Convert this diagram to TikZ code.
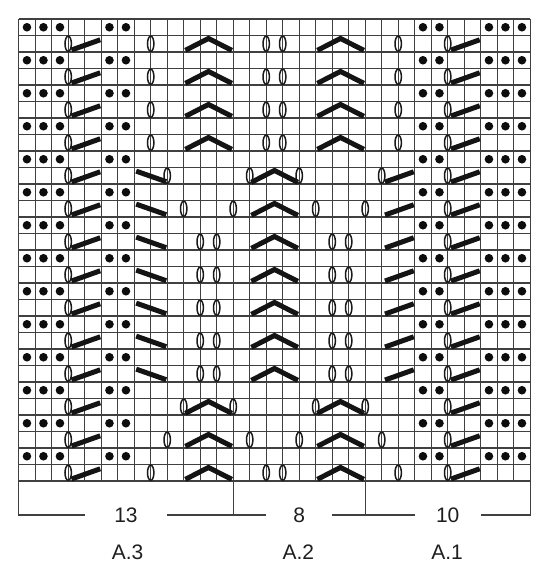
\documentclass[tikz,border=0pt]{standalone}
\usepackage{fontspec}
\setmainfont{Liberation Sans}
\newcommand\kyo[2]{\draw[yarnover] (#1,#2+0.5) ellipse [x radius=3.2pt, y radius=7.6pt];}
\newcommand\krs[2]{\draw[barstroke] (#1+0.2,#2+0.88) -- (#1+1.94,#2+0.26);}
\newcommand\kls[2]{\draw[barstroke] (#1+0.12,#2+0.22) -- (#1+1.94,#2+0.86);}
\newcommand\kchev[2]{\draw[barstroke] (#1+0.1,#2+0.9) -- (#1+1.5,#2+0.18) -- (#1+2.92,#2+0.9);}
\begin{document}
\begin{tikzpicture}[x=1pt,y=-1pt,
  gridline/.style={draw=black!75, line width=1.1pt},
  yarnover/.style={draw=black!90, line width=1.5pt},
  barstroke/.style={draw=black!92, line width=5pt},
  purl/.style={fill=black!95},
  lbl/.style={font=\fontsize{21}{24}\selectfont, text=black!88, inner sep=0pt, minimum height=20pt},
]
\useasboundingbox (0,0) rectangle (550,572);
\begin{scope}[shift={(18.7,19)}, x=16.5pt, y=-16.5pt]
  % grid
  \foreach \i in {0,...,31} \draw[gridline] (\i,0) -- (\i,28);
  \foreach \j in {0,...,28} \draw[gridline] (0,\j) -- (31,\j);
  % purl dots on even rows
  \foreach \r in {0,2,...,26} {
    \foreach \c in {0,1,2,5,6,24,25,28,29,30}
      \fill[purl] (\c+0.5,\r+0.5) circle [radius=4.3pt];
  }
  % common odd-row symbols
  \foreach \r in {1,3,...,27} {
    \kyo{3}{\r} \krs{3}{\r}
    \kyo{26}{\r} \krs{26}{\r}
  }
  % rows 1,3,5,7,27
  \foreach \r in {1,3,5,7,27} {
    \kyo{8}{\r} \kchev{10}{\r} \kyo{15}{\r} \kyo{16}{\r} \kchev{18}{\r} \kyo{23}{\r}
  }
  % row 9
  \kls{7}{9} \kyo{9}{9} \kyo{14}{9} \kchev{14}{9} \kyo{17}{9} \kyo{22}{9} \krs{22}{9}
  % row 11
  \kls{7}{11} \kyo{10}{11} \kyo{13}{11} \kchev{14}{11} \kyo{18}{11} \kyo{21}{11} \krs{22}{11}
  % rows 13-21
  \foreach \r in {13,15,...,21} {
    \kls{7}{\r} \kyo{11}{\r} \kyo{12}{\r} \kchev{14}{\r} \kyo{19}{\r} \kyo{20}{\r} \krs{22}{\r}
  }
  % row 23
  \kyo{10}{23} \kchev{10}{23} \kyo{13}{23} \kyo{18}{23} \kchev{18}{23} \kyo{21}{23}
  % row 25
  \kyo{9}{25} \kchev{10}{25} \kyo{14}{25} \kyo{17}{25} \kchev{18}{25} \kyo{22}{25}
  % bottom brackets
  \coordinate (bl) at (0,30.06);
  \coordinate (b13) at (13,30.06);
  \coordinate (b21) at (21,30.06);
  \coordinate (br) at (31,30.06);
  \coordinate (t0) at (0,28);
  \coordinate (t13) at (13,28);
  \coordinate (t21) at (21,28);
  \coordinate (t31) at (31,28);
  \node[lbl, minimum width=82.5pt] (n13) at (6.5,30.06) {13};
  \node[lbl, minimum width=66pt] (n8) at (17,30.06) {8};
  \node[lbl, minimum width=66pt] (n10) at (26,30.06) {10};
  \draw[gridline] (t0) -- (bl) -- (n13.west);
  \draw[gridline] (n13.east) -- (b13) -- (n8.west);
  \draw[gridline] (t13) -- (b13);
  \draw[gridline] (n8.east) -- (b21) -- (n10.west);
  \draw[gridline] (t21) -- (b21);
  \draw[gridline] (n10.east) -- (br) -- (t31);
  \node[lbl] (a3) at (6.6,32.33) {A.3};
  \node[lbl] (a2) at (16.95,32.33) {A.2};
  \node[lbl] (a1) at (25.96,32.33) {A.1};
\end{scope}
\end{tikzpicture}
\end{document}
